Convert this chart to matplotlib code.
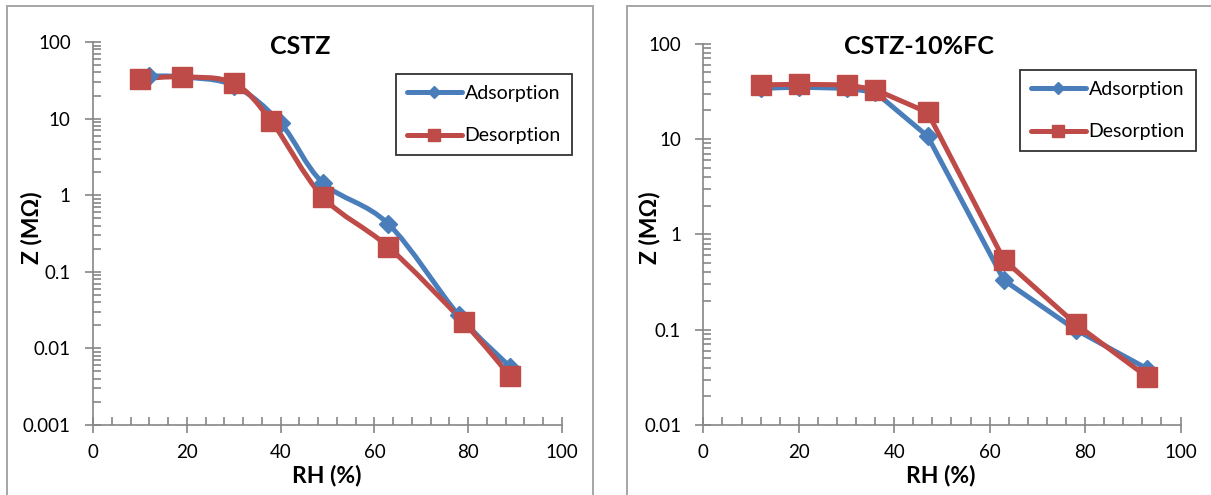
import numpy as np
import matplotlib
matplotlib.use('Agg')
import matplotlib.pyplot as plt
from matplotlib.path import Path
from matplotlib.patches import PathPatch, Rectangle
from matplotlib.lines import Line2D
from matplotlib.ticker import LogLocator, MultipleLocator, FuncFormatter, NullFormatter

plt.rcParams['font.family'] = ['Lato', 'DejaVu Sans']

# left panel: CSTZ
rh_ads_1 = [12, 19, 30, 40, 49, 63, 78, 89]
z_ads_1 = [36, 35, 27, 8.7, 1.45, 0.42, 0.027, 0.0057]
rh_des_1 = [10, 19, 30, 38, 49, 63, 79, 89]
z_des_1 = [33, 35, 29, 9.3, 0.95, 0.21, 0.022, 0.0043]

# right panel: CSTZ-10%FC
rh_ads_2 = [12, 20, 30, 36, 47, 63, 78, 93]
z_ads_2 = [34, 35, 34, 31, 10.7, 0.33, 0.1, 0.039]
rh_des_2 = [12, 20, 30, 36, 47, 63, 78, 93]
z_des_2 = [37, 37.5, 37, 33, 19, 0.54, 0.115, 0.032]

titles = ['CSTZ', 'CSTZ-10%FC']
series_names = ['Adsorption', 'Desorption']

BLUE = '#4A7EBB'
RED = '#BE4B48'
GREY = '#868686'

W, H = 1211, 495
fig = plt.figure(figsize=(W / 100, H / 100), dpi=100)


def px(x0, y0, x1, y1):
    # pixel box (top-left origin) -> figure fraction rect
    return [x0 / W, 1 - y1 / H, (x1 - x0) / W, (y1 - y0) / H]


def smooth_line(ax, x, y, color):
    # excel-like smoothed line, built as bezier in display-linear space
    x0, x1 = ax.get_xlim()
    l0, l1 = np.log10(ax.get_ylim())
    bb = ax.get_window_extent()
    u = (np.asarray(x, float) - x0) / (x1 - x0) * bb.width
    v = (np.log10(y) - l0) / (l1 - l0) * bb.height
    p = np.column_stack([u, v])
    n = len(p)
    verts = [p[0]]
    codes = [Path.MOVETO]
    for i in range(n - 1):
        pa = p[i - 1] if i > 0 else p[i]
        pd = p[i + 2] if i + 2 < n else p[i + 1]
        c1 = p[i] + (p[i + 1] - pa) / 6
        c2 = p[i + 1] - (pd - p[i]) / 6
        verts += [c1, c2, p[i + 1]]
        codes += [Path.CURVE4] * 3
    verts = np.array(verts)
    xs = x0 + verts[:, 0] / bb.width * (x1 - x0)
    ys = 10 ** (l0 + verts[:, 1] / bb.height * (l1 - l0))
    path = Path(np.column_stack([xs, ys]), codes)
    ax.add_patch(PathPatch(path, fill=False, edgecolor=color, lw=3.6,
                           capstyle='round', joinstyle='round', zorder=2))


def setup(ax, ymin):
    ax.set_yscale('log')
    ax.set_xlim(0, 100)
    ax.set_ylim(ymin, 100)
    for s in ['top', 'right']:
        ax.spines[s].set_visible(False)
    for s in ['left', 'bottom']:
        ax.spines[s].set_color(GREY)
        ax.spines[s].set_linewidth(1.2)
    ax.set_xticks(range(0, 101, 20))
    ax.xaxis.set_minor_locator(MultipleLocator(4))
    ax.yaxis.set_major_locator(LogLocator(base=10, numticks=10))
    ax.yaxis.set_minor_locator(LogLocator(base=10, subs=range(2, 10), numticks=20))
    ax.yaxis.set_minor_formatter(NullFormatter())
    ax.yaxis.set_major_formatter(FuncFormatter(lambda v, p: f'{v:g}'))
    ax.tick_params(which='major', direction='inout', length=12, width=1.2,
                   color=GREY, labelsize=13.5, labelcolor='black')
    ax.tick_params(axis='y', which='major', pad=10)
    ax.tick_params(axis='x', which='major', pad=8)
    ax.tick_params(which='minor', direction='in', length=6, width=1.2, color=GREY)
    ax.set_facecolor('none')


ax1 = fig.add_axes(px(93, 42, 562, 425))
setup(ax1, 0.001)
ax2 = fig.add_axes(px(703.4, 43.7, 1180.5, 425))
setup(ax2, 0.01)

# left: smoothed lines + markers
smooth_line(ax1, rh_ads_1, z_ads_1, BLUE)
smooth_line(ax1, rh_des_1, z_des_1, RED)
ax1.plot(rh_ads_1, z_ads_1, ls='none', marker='D', ms=9.5, color=BLUE, zorder=3)
ax1.plot(rh_des_1, z_des_1, ls='none', marker='s', ms=14, color=RED, zorder=4)

# right: straight lines
ax2.plot(rh_ads_2, z_ads_2, color=BLUE, lw=3.6, marker='D', ms=9.5,
         solid_joinstyle='round', zorder=3)
ax2.plot(rh_des_2, z_des_2, color=RED, lw=3.6, marker='s', ms=14,
         solid_joinstyle='round', zorder=4)

handles = [Line2D([], [], color=BLUE, lw=3.6, marker='D', ms=6, solid_capstyle='round'),
           Line2D([], [], color=RED, lw=3.6, marker='s', ms=8, solid_capstyle='round')]

for ax, (lx, ly) in [(ax1, (396, 74)), (ax2, (1020, 70))]:
    leg = ax.legend(handles, series_names, loc='upper left',
                    bbox_to_anchor=(lx / W, 1 - ly / H), bbox_transform=fig.transFigure,
                    borderaxespad=0, fontsize=14, frameon=True, fancybox=False,
                    handlelength=2.8, handletextpad=0.15, labelspacing=1.3,
                    borderpad=0.57)
    leg.get_frame().set_edgecolor('black')
    leg.get_frame().set_linewidth(1.3)

# titles and axis labels
fig.text(300 / W, 1 - 47 / H, titles[0], ha='center', va='center',
         fontsize=18, fontweight='bold')
fig.text(919 / W, 1 - 47 / H, titles[1], ha='center', va='center',
         fontsize=18, fontweight='bold')
for cx in [327, 941]:
    fig.text(cx / W, 1 - 475 / H, 'RH (%)', ha='center', va='center',
             fontsize=16.5, fontweight='bold')
for cx in [31, 650]:
    fig.text(cx / W, 1 - 228 / H, 'Z (MΩ)', ha='center', va='center',
             fontsize=16.5, fontweight='bold', rotation=90)

# chart area borders
fig.patches.append(Rectangle((7 / W, -0.1), (593 - 7) / W, 1.1 - 6 / H,
                             transform=fig.transFigure, fill=False,
                             ec='#A6A6A6', lw=1.4))
fig.patches.append(Rectangle((627 / W, -0.1), 1.0, 1.1 - 6 / H,
                             transform=fig.transFigure, fill=False,
                             ec='#A6A6A6', lw=1.4))

fig.savefig('out.png', dpi=100)
